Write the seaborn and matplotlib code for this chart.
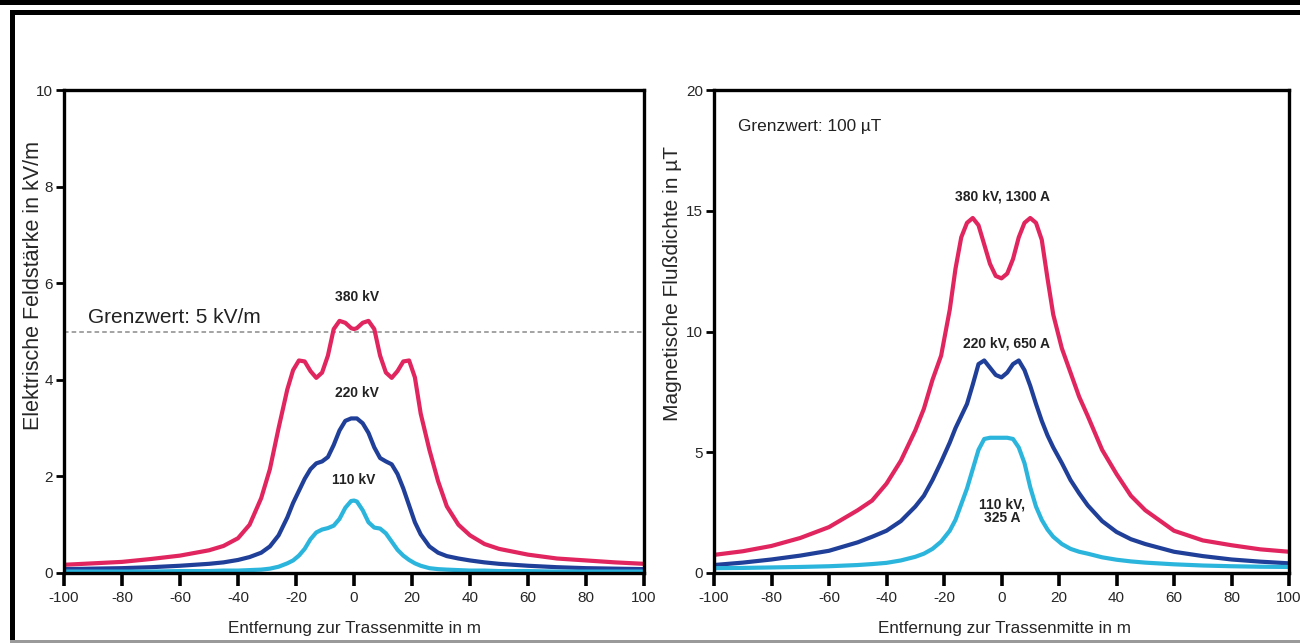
import numpy as np
import pandas as pd
import matplotlib
matplotlib.use("Agg")
import matplotlib.pyplot as plt
import seaborn as sns
from matplotlib.patches import Rectangle

# ---------------- data ----------------
series_names = ["380 kV", "220 kV", "110 kV"]
series_colors = ["#e0255f", "#1f3f98", "#2bb5dd"]

# Left panel: electric field strength (kV/m)
x_e = [-100, -90, -80, -70, -60, -50, -45, -40, -36, -32, -29, -26, -23, -21, -19, -17, -15,
       -13, -11, -9, -7, -5, -3, -1, 0, 1, 3, 5, 7, 9, 11, 13, 15, 17, 19, 21, 23, 26,
       29, 32, 36, 40, 45, 50, 60, 70, 80, 90, 100]
e_380 = [0.17, 0.20, 0.23, 0.29, 0.36, 0.47, 0.56, 0.72, 1.00, 1.55, 2.15, 3.00, 3.80, 4.20, 4.40, 4.38, 4.18,
         4.04, 4.15, 4.50, 5.05, 5.22, 5.18, 5.07, 5.05, 5.07, 5.18, 5.22, 5.05, 4.50, 4.15, 4.04, 4.18, 4.38, 4.40, 4.05, 3.30, 2.55,
         1.90, 1.38, 1.00, 0.78, 0.60, 0.50, 0.38, 0.30, 0.26, 0.22, 0.19]
e_220 = [0.08, 0.09, 0.10, 0.12, 0.15, 0.19, 0.22, 0.27, 0.33, 0.42, 0.55, 0.78, 1.15, 1.45, 1.70, 1.95, 2.15,
         2.27, 2.31, 2.40, 2.65, 2.95, 3.15, 3.20, 3.20, 3.20, 3.10, 2.90, 2.60, 2.38, 2.31, 2.25, 2.05, 1.75, 1.40, 1.05, 0.80, 0.55,
         0.42, 0.35, 0.30, 0.26, 0.22, 0.19, 0.15, 0.12, 0.10, 0.09, 0.08]
e_110 = [0.03, 0.03, 0.03, 0.03, 0.04, 0.04, 0.05, 0.05, 0.06, 0.07, 0.09, 0.13, 0.20, 0.26, 0.36, 0.50, 0.70,
         0.84, 0.90, 0.93, 0.98, 1.12, 1.35, 1.49, 1.50, 1.48, 1.30, 1.05, 0.94, 0.92, 0.82, 0.65, 0.48, 0.36, 0.27, 0.20, 0.15, 0.10,
         0.08, 0.07, 0.06, 0.05, 0.05, 0.04, 0.04, 0.03, 0.03, 0.03, 0.03]
e_limit = 5.0

# Right panel: magnetic flux density (µT)
x_b = [-100, -90, -80, -70, -60, -50, -45, -40, -35, -30, -27, -24, -21, -18, -16, -14, -12, -10,
       -8, -6, -4, -2, 0, 2, 4, 6, 8, 10, 12, 14, 16, 18, 21, 24, 27, 30, 35, 40, 45, 50,
       60, 70, 80, 90, 100]
b_380 = [0.75, 0.90, 1.12, 1.45, 1.90, 2.60, 3.00, 3.70, 4.65, 5.90, 6.80, 8.00, 9.00, 10.90, 12.60, 13.90, 14.50, 14.70,
         14.40, 13.60, 12.80, 12.30, 12.20, 12.40, 13.00, 13.90, 14.50, 14.70, 14.50, 13.80, 12.20, 10.70, 9.30, 8.30, 7.30, 6.50, 5.10, 4.10, 3.20, 2.60,
         1.75, 1.35, 1.15, 0.98, 0.88]
b_220 = [0.33, 0.43, 0.56, 0.72, 0.92, 1.27, 1.50, 1.75, 2.15, 2.75, 3.20, 3.85, 4.60, 5.40, 6.00, 6.50, 7.00, 7.80,
         8.65, 8.80, 8.50, 8.20, 8.10, 8.30, 8.65, 8.80, 8.40, 7.75, 7.00, 6.30, 5.70, 5.20, 4.55, 3.85, 3.30, 2.80, 2.15, 1.70, 1.40, 1.20,
         0.88, 0.70, 0.56, 0.47, 0.40]
b_110 = [0.20, 0.21, 0.23, 0.25, 0.28, 0.33, 0.37, 0.42, 0.52, 0.67, 0.80, 1.00, 1.30, 1.75, 2.20, 2.85, 3.50, 4.30,
         5.10, 5.55, 5.60, 5.60, 5.60, 5.60, 5.55, 5.20, 4.55, 3.55, 2.75, 2.20, 1.80, 1.50, 1.20, 1.00, 0.88, 0.80, 0.65, 0.55, 0.48, 0.43,
         0.36, 0.31, 0.28, 0.26, 0.25]

x_ticks = [-100, -80, -60, -40, -20, 0, 20, 40, 60, 80, 100]
e_ticks = [0, 2, 4, 6, 8, 10]
b_ticks = [0, 5, 10, 15, 20]

# ---------------- long-format tables ----------------
df_e = pd.concat([pd.DataFrame({"x": x_e, "v": v, "s": n})
                  for n, v in zip(series_names, [e_380, e_220, e_110])], ignore_index=True)
df_b = pd.concat([pd.DataFrame({"x": x_b, "v": v, "s": n})
                  for n, v in zip(series_names, [b_380, b_220, b_110])], ignore_index=True)
palette = dict(zip(series_names, series_colors))

# ---------------- style ----------------
sns.set_theme(style="white")
plt.rcParams["font.family"] = ["Liberation Sans", "DejaVu Sans"]
plt.rcParams["axes.unicode_minus"] = False

fig = plt.figure(figsize=(13, 6.43), dpi=100)
fig.patch.set_facecolor("white")

# frame decoration around the picture
fig.add_artist(Rectangle((0, 1 - 5 / 643), 1, 5 / 643, transform=fig.transFigure,
                         facecolor="black", edgecolor="none"))
fig.add_artist(Rectangle((10 / 1300, 1 - 15 / 643), 1 - 10 / 1300, 5 / 643, transform=fig.transFigure,
                         facecolor="black", edgecolor="none"))
fig.add_artist(Rectangle((10 / 1300, 0), 5 / 1300, 1 - 10 / 643, transform=fig.transFigure,
                         facecolor="black", edgecolor="none"))
fig.add_artist(Rectangle((10 / 1300, 0), 1 - 10 / 1300, 3 / 643, transform=fig.transFigure,
                         facecolor="#9a9a9a", edgecolor="none"))

ax1 = fig.add_axes([64 / 1300, 1 - 573 / 643, 580 / 1300, 483 / 643])
ax2 = fig.add_axes([714 / 1300, 1 - 573 / 643, 575 / 1300, 483 / 643])

sns.lineplot(data=df_e, x="x", y="v", hue="s", hue_order=series_names, palette=palette,
             ax=ax1, linewidth=3.0, legend=False, solid_joinstyle="round", solid_capstyle="round")
sns.lineplot(data=df_b, x="x", y="v", hue="s", hue_order=series_names, palette=palette,
             ax=ax2, linewidth=3.0, legend=False, solid_joinstyle="round", solid_capstyle="round")

ax1.axhline(e_limit, color="#8a8a8a", linestyle=(0, (3, 2)), linewidth=1.1, zorder=1)

for ax, yt, ylim in [(ax1, e_ticks, (0, 10)), (ax2, b_ticks, (0, 20))]:
    ax.set_xlim(-100, 100)
    ax.set_ylim(*ylim)
    ax.set_xticks(x_ticks)
    ax.set_yticks(yt)
    for sp in ax.spines.values():
        sp.set_visible(True)
        sp.set_color("black")
        sp.set_linewidth(2.4)
    ax.tick_params(axis="x", direction="out", length=9, width=2.6, color="black",
                   labelsize=11, pad=4, bottom=True)
    ax.tick_params(axis="y", direction="out", length=6, width=2.0, color="black",
                   labelsize=11, pad=2, left=True)
    ax.set_facecolor("white")
    ax.grid(False)

ax1.set_xlabel("Entfernung zur Trassenmitte in m", fontsize=12.3)
ax2.set_xlabel("Entfernung zur Trassenmitte in m", fontsize=12.3)
ax1.set_ylabel("Elektrische Feldstärke in kV/m", fontsize=15.5)
ax2.set_ylabel("Magnetische Flußdichte in µT", fontsize=15)
ax1.xaxis.set_label_coords(0.5, -0.1)
ax2.xaxis.set_label_coords(0.505, -0.1)
ax1.yaxis.set_label_coords(-0.035, 0.595)
ax2.yaxis.set_label_coords(-0.056, 0.6)

lab_kw = dict(ha="center", va="center", fontsize=10, fontweight="bold", color="#222222")
ax1.text(1, 5.71, "380 kV", **lab_kw)
ax1.text(1, 3.73, "220 kV", **lab_kw)
ax1.text(0, 1.93, "110 kV", **lab_kw)
ax1.text(-91.7, 5.3, "Grenzwert: 5 kV/m", ha="left", va="center", fontsize=15, color="#222222")

ax2.text(0.2, 15.57, "380 kV, 1300 A", **lab_kw)
ax2.text(1.6, 9.52, "220 kV, 650 A", **lab_kw)
ax2.text(0.3, 2.55, "110 kV,\n325 A", linespacing=1.0, **lab_kw)
ax2.text(-91.7, 18.47, "Grenzwert: 100 µT", ha="left", va="center", fontsize=12.4, color="#222222")

fig.savefig("out.png", dpi=100, facecolor="white")
